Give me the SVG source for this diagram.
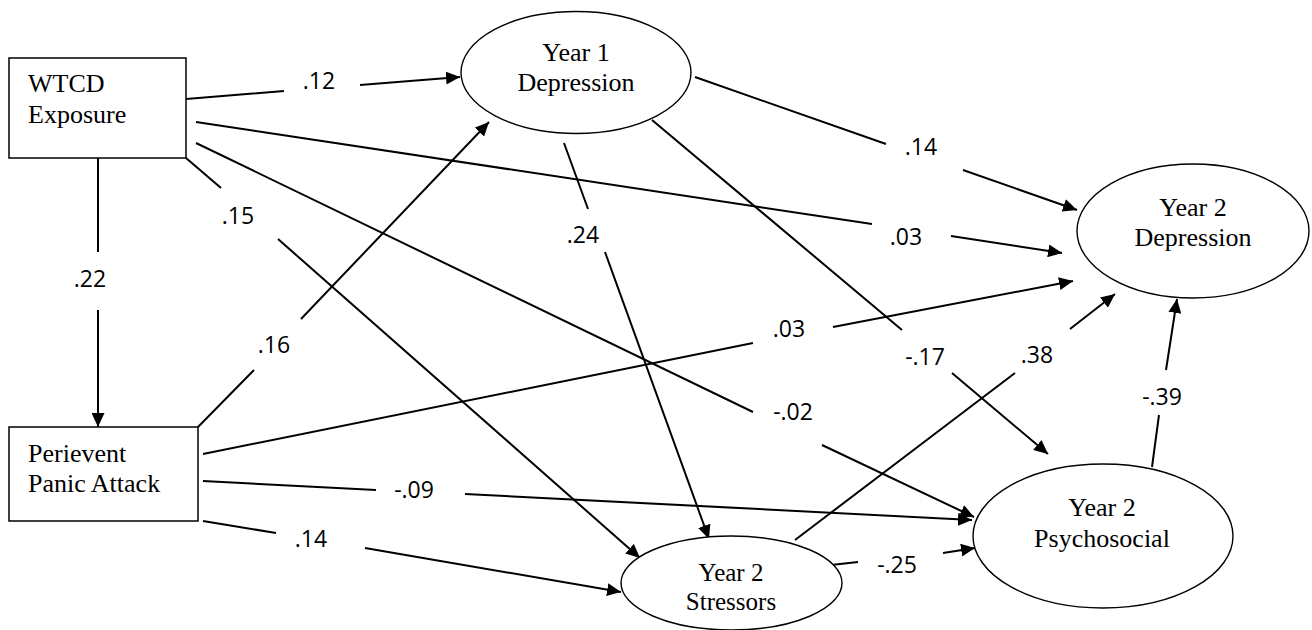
<svg xmlns="http://www.w3.org/2000/svg" width="1312" height="630" viewBox="0 0 1312 630">
<style>
.node{fill:#fff;stroke:#000;stroke-width:1.5}
.ell{fill:#fff;stroke:#000;stroke-width:1.4}
.nt{font-family:"Liberation Serif","Times New Roman",serif;font-size:26px;fill:#000}
.ntc{font-family:"Liberation Serif","Times New Roman",serif;font-size:26px;fill:#000;text-anchor:middle}
.edge{fill:none;stroke:#000;stroke-width:2}
.lbl{font-family:"Open Sans","Liberation Sans",sans-serif;font-size:23px;fill:#000;text-anchor:middle}
</style>
<defs>
<marker id="arr" markerUnits="userSpaceOnUse" markerWidth="14" markerHeight="13" refX="14" refY="6.5" orient="auto">
<path d="M0,0 L14,6.5 L0,13 z" fill="#000"/>
</marker>
</defs>
<rect width="1312" height="630" fill="#fff"/>
<g id="connectors">
<path class="edge" marker-end="url(#arr)" d="M186,99 L284,91 M360,85 L460,77"/>
<path class="edge" marker-end="url(#arr)" d="M196,122 L872,224 M951,236 L1062,253"/>
<path class="edge" marker-end="url(#arr)" d="M186,158 L221,188 M278,239 L640,558"/>
<path class="edge" marker-end="url(#arr)" d="M196,143 L753,412 M822,445 L974,517"/>
<path class="edge" marker-end="url(#arr)" d="M98,158 L98,252 M98,310 L98,427"/>
<path class="edge" marker-end="url(#arr)" d="M198,427 L254,370 M301,319 L489,122"/>
<path class="edge" marker-end="url(#arr)" d="M203,454 L753,343 M833,327 L1073,281"/>
<path class="edge" marker-end="url(#arr)" d="M203,481 L376,490 M465,494 L972,520"/>
<path class="edge" marker-end="url(#arr)" d="M203,521 L276,533 M365,548 L621,592"/>
<path class="edge" marker-end="url(#arr)" d="M695,77 L886,144 M963,170 L1077,210"/>
<path class="edge" marker-end="url(#arr)" d="M564,143 L588,209 M605,252 L709,539"/>
<path class="edge" marker-end="url(#arr)" d="M652,120 L902,330 M952,373 L1048,454"/>
<path class="edge" marker-end="url(#arr)" d="M795,540 L1015,373 M1070,329 L1115,294"/>
<path class="edge" marker-end="url(#arr)" d="M1152,467 L1159,415 M1166,370 L1177,299"/>
<path class="edge" marker-end="url(#arr)" d="M831,565 L858,562 M943,553 L975,548"/>
<text class="lbl" x="319" y="89">.12</text>
<text class="lbl" x="906" y="245">.03</text>
<text class="lbl" x="238" y="224">.15</text>
<text class="lbl" x="793" y="420">-.02</text>
<text class="lbl" x="90" y="287">.22</text>
<text class="lbl" x="274" y="353">.16</text>
<text class="lbl" x="789" y="337">.03</text>
<text class="lbl" x="414" y="498">-.09</text>
<text class="lbl" x="311" y="547">.14</text>
<text class="lbl" x="921" y="155">.14</text>
<text class="lbl" x="583" y="243">.24</text>
<text class="lbl" x="925" y="365">-.17</text>
<text class="lbl" x="1037" y="363">.38</text>
<text class="lbl" x="1162" y="405">-.39</text>
<text class="lbl" x="897" y="573">-.25</text>
</g>
<g id="wtcd">
<rect class="node" x="9" y="58" width="177" height="100"/>
<text class="nt" x="28" y="92">WTCD</text>
<text class="nt" x="28" y="123">Exposure</text>
</g>
<g id="perievent">
<rect class="node" x="9" y="427" width="189" height="94"/>
<text class="nt" x="28" y="462">Perievent</text>
<text class="nt" x="28" y="492">Panic Attack</text>
</g>
<g id="y1dep">
<ellipse class="ell" cx="576" cy="72.5" rx="115" ry="61"/>
<text class="ntc" x="576" y="61">Year 1</text>
<text class="ntc" x="576" y="91">Depression</text>
</g>
<g id="y2dep">
<ellipse class="ell" cx="1193" cy="231" rx="116" ry="67"/>
<text class="ntc" x="1193" y="216">Year 2</text>
<text class="ntc" x="1193" y="246">Depression</text>
</g>
<g id="y2psych">
<ellipse class="ell" cx="1103" cy="536" rx="130" ry="72"/>
<text class="ntc" x="1102" y="516">Year 2</text>
<text class="ntc" x="1102" y="547">Psychosocial</text>
</g>
<g id="y2stress">
<ellipse class="ell" cx="731.5" cy="583" rx="110.5" ry="47"/>
<text class="ntc" x="731" y="581" style="font-size:25px">Year 2</text>
<text class="ntc" x="731" y="610" style="font-size:25px">Stressors</text>
</g>
</svg>
